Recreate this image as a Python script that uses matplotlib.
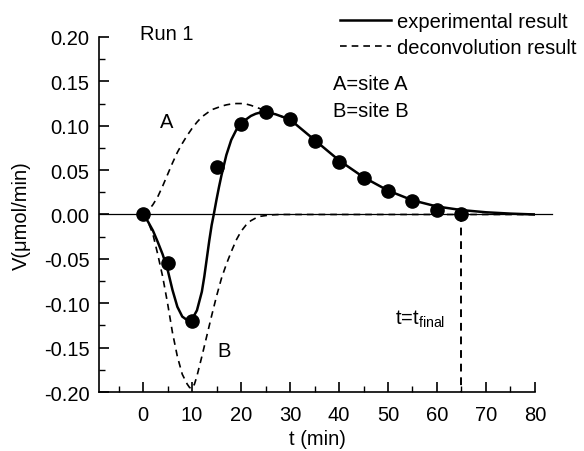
import matplotlib
matplotlib.use('Agg')
import matplotlib.pyplot as plt
from matplotlib.ticker import MultipleLocator

plt.rcParams['font.family'] = ['Liberation Sans', 'DejaVu Sans']

# measured points
t_pts = [0, 5, 10, 15, 20, 25, 30, 35, 40, 45, 50, 55, 60, 65]
v_pts = [0.0, -0.055, -0.120, 0.053, 0.102, 0.115, 0.108, 0.083, 0.059,
         0.041, 0.026, 0.015, 0.005, 0.001]

# experimental (fitted) curve
t_exp = [0, 1, 2, 3, 4, 5, 6, 7, 8, 9, 10, 11, 12, 12.5, 13, 13.5, 14,
         14.5, 15, 15.5, 16, 17, 18, 19, 20, 21, 22, 23, 24, 25, 27, 30,
         35, 40, 45, 50, 55, 60, 65, 70, 75, 80]
v_exp = [0.0, -0.008, -0.018, -0.031, -0.045, -0.062, -0.085, -0.104,
         -0.115, -0.119, -0.118, -0.108, -0.087, -0.070, -0.050, -0.030,
         -0.012, 0.002, 0.017, 0.031, 0.044, 0.067, 0.084, 0.095, 0.102,
         0.107, 0.111, 0.1135, 0.115, 0.115, 0.113, 0.107, 0.084, 0.061,
         0.042, 0.027, 0.016, 0.009, 0.005, 0.0025, 0.001, 0.0]

# deconvolution, site A
t_a = [0, 1, 2, 3, 4, 5, 6, 7, 8, 9, 10, 11, 12, 13, 14, 15, 16, 17, 18,
       19, 20, 21, 22, 23, 24, 25, 27, 30]
v_a = [0.0, 0.004, 0.011, 0.020, 0.032, 0.045, 0.058, 0.070, 0.080, 0.089,
       0.097, 0.104, 0.110, 0.114, 0.118, 0.120, 0.122, 0.1235, 0.1245,
       0.125, 0.125, 0.1245, 0.123, 0.121, 0.119, 0.116, 0.113, 0.107]

# deconvolution, site B
t_b = [0, 1, 2, 3, 4, 5, 6, 7, 8, 9, 9.5, 10, 10.5, 11, 12, 13, 14, 15, 16,
       17, 18, 19, 20, 21, 22, 23, 24, 26, 28, 80]
v_b = [0.0, -0.008, -0.022, -0.045, -0.070, -0.100, -0.133, -0.160, -0.180,
       -0.191, -0.195, -0.196, -0.191, -0.182, -0.160, -0.137, -0.114,
       -0.092, -0.072, -0.056, -0.042, -0.029, -0.019, -0.012, -0.007,
       -0.004, -0.002, -0.0005, 0.0, 0.0]

t_final = 65

fig = plt.figure(figsize=(5.84, 4.52), dpi=100)
ax = fig.add_axes([0.1695, 0.1305, 0.7465, 0.7855])

ax.plot([-9, 83.5], [0, 0], color='black', lw=0.9, clip_on=False)
ax.plot(t_b, v_b, color='black', lw=1.2, linestyle=(0, (4, 3)))
ax.plot(t_a, v_a, color='black', lw=1.2, linestyle=(0, (4, 3)))
ax.plot(t_exp, v_exp, color='black', lw=1.8)
ax.plot(t_pts, v_pts, 'o', color='black', markersize=9.5)
ax.plot([t_final, t_final], [0, -0.2], color='black', lw=1.4,
        linestyle=(0, (4, 3)))

ax.set_xlim(-9, 80)
ax.set_ylim(-0.2, 0.2)
ax.xaxis.set_minor_locator(MultipleLocator(5))
ax.yaxis.set_minor_locator(MultipleLocator(0.025))
ax.set_xticks(range(0, 81, 10))
ax.set_yticks([-0.2, -0.15, -0.1, -0.05, 0, 0.05, 0.1, 0.15, 0.2])
ax.set_yticklabels(['-0.20', '-0.15', '-0.10', '-0.05', '0.00', '0.05',
                    '0.10', '0.15', '0.20'])
ax.tick_params(which='major', direction='in', length=7, width=1.2,
               labelsize=14.5)
ax.tick_params(axis='x', which='major', pad=9)
ax.tick_params(axis='y', which='major', pad=7)
ax.tick_params(which='minor', direction='in', length=4, width=1.0)
ax.spines['top'].set_visible(False)
ax.spines['right'].set_visible(False)
for s in ('left', 'bottom'):
    ax.spines[s].set_linewidth(1.2)

ax.set_xlabel('t (min)', fontsize=14.5, labelpad=4)
ax.set_ylabel('V(\u03bcmol/min)', fontsize=14.5, labelpad=9)

ax.text(-0.6, 0.204, 'Run 1', fontsize=14.5, va='center')
ax.text(4.9, 0.105, 'A', fontsize=14.5, va='center', ha='center')
ax.text(16.5, -0.153, 'B', fontsize=14.5, va='center', ha='center')
ax.text(38.8, 0.1475, 'A=site A', fontsize=14.5, va='center')
ax.text(38.8, 0.117, 'B=site B', fontsize=14.5, va='center')
ax.text(51.4, -0.117, r't=t$_{\mathregular{final}}$', fontsize=14.5,
        va='center')

ax.plot([], [], color='black', lw=1.8, label='experimental result')
ax.plot([], [], color='black', lw=1.2, linestyle=(0, (4, 3)),
        label='deconvolution result')
handles, labels = ax.get_legend_handles_labels()
ax.legend(handles[-2:], labels[-2:], loc='upper right',
          bbox_to_anchor=(1.095, 1.07), frameon=False, fontsize=14.5,
          handlelength=2.5, handletextpad=0.3, labelspacing=0.35,
          borderaxespad=0, borderpad=0)

fig.savefig('out.png', dpi=100)
